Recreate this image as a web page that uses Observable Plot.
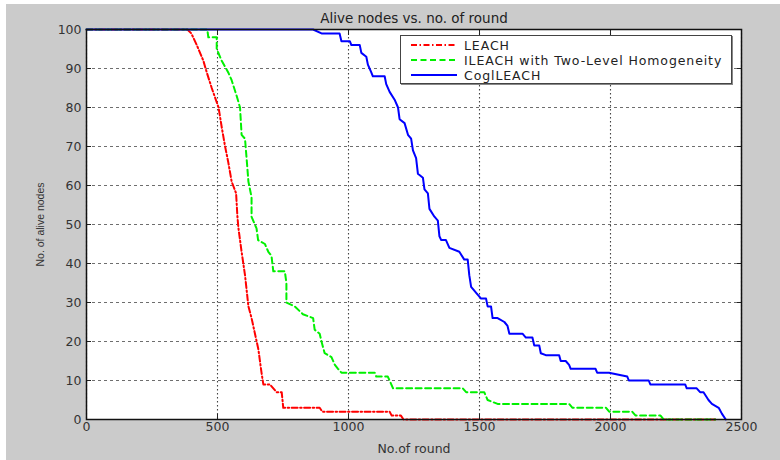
<!DOCTYPE html>
<html>
<head>
<meta charset="utf-8">
<script src="https://cdn.jsdelivr.net/npm/d3@7"></script>
<script src="https://cdn.jsdelivr.net/npm/@observablehq/plot@0.6"></script>
<style>
  html, body { margin: 0; padding: 0; background: #fff; }
  #wrap { position: relative; width: 780px; height: 460px; background: #fff; overflow: hidden; font-family: "DejaVu Sans", sans-serif; }
  #bg { position: absolute; left: 6px; top: 4px; right: 0; bottom: 0; background: #cbcbcb; }
  #chart { position: absolute; left: 0; top: 0; }
  #legend { position: absolute; left: 400px; top: 35px; width: 332px; height: 49px; background: #fff; border: 1px solid #444; box-sizing: border-box; box-shadow: 1px 1px 0 #888; }
  #legend .row { position: absolute; left: 9px; height: 14px; display: flex; align-items: center; font-size: 12.5px; color: #222; letter-spacing: 0.9px; }
  #legend svg { margin-right: 6px; }
</style>
</head>
<body>
<div id="wrap">
  <div id="bg"></div>
  <div id="chart"></div>
  <div id="legend"></div>
</div>
<script>
// ---- Data ----
const titleText = "Alive nodes vs. no. of round";
const xLabel = "No.of round";
const yLabel = "No. of alive nodes";
const xTicks = [0, 500, 1000, 1500, 2000, 2500];
const yTicks = [0, 10, 20, 30, 40, 50, 60, 70, 80, 90, 100];
const seriesNames = ["LEACH", "ILEACH with Two-Level Homogeneity", "CoglLEACH"];

const leachRound = [0,385,400,421,446,459,478,504,516,529,541,554,571,576,580,592,605,618,630,643,656,668,675,700,726,745,751,890,900,1157,1165,1200,1210,2400];
const leachAlive = [100,100,99,96,92,89,85,80,75,70,66,61,58,52,49,43,37,29,26,22,18,12,9,9,7,7,3,3,2,2,1,1,0,0];

const ileachRound = [0,461,465,497,497,516,541,554,573,586,592,605,611,618,630,630,649,655,681,694,706,713,738,757,763,763,795,826,865,871,890,897,909,935,948,960,973,1100,1106,1150,1170,1436,1449,1518,1531,1569,1842,1855,1983,1995,2083,2096,2191,2203,2400];
const ileachAlive = [100,100,98,98,95,92,89,87,83,80,73,72,67,61,57,52,49,46,45,43,42,38,38,38,35,30,29,27,26,23,22,20,17,16,14,13,12,12,11,11,8,8,7,7,5,4,4,3,3,2,2,1,1,0,0];

const cogRound = [0,865,897,966,973,1005,1011,1043,1049,1068,1074,1087,1093,1138,1144,1157,1176,1189,1195,1214,1227,1239,1246,1258,1265,1284,1290,1303,1309,1328,1341,1347,1354,1372,1385,1423,1442,1455,1461,1468,1493,1506,1525,1531,1544,1550,1569,1595,1607,1614,1664,1677,1702,1709,1728,1734,1753,1804,1810,1829,1842,1848,1943,1949,1994,2064,2070,2146,2152,2285,2291,2329,2342,2355,2374,2387,2413,2425,2440];
const cogAlive = [100,100,99,99,97,97,96,96,94,93,91,89,88,88,86,84,82,80,77,76,73,72,69,67,63,62,59,58,54,52,51,47,46,46,44,43,41,41,37,34,32,31,31,29,29,26,26,25,24,22,22,21,21,19,19,17,16.5,16.5,15,15,14,13,13,12,12,11,10,10,9,9,8,8,7,7,5,4,3,1.5,0];

const colors = ["#ff0000", "#00f000", "#0000ff"];
const dashes = ["6,2.5,1.5,2.5", "6,3.5", null];

// ---- Build table ----
function mk(name, xs, ys) { return xs.map((x, i) => ({series: name, round: x, alive: ys[i]})); }
const leach = mk(seriesNames[0], leachRound, leachAlive);
const ileach = mk(seriesNames[1], ileachRound, ileachAlive);
const cog = mk(seriesNames[2], cogRound, cogAlive);

const font = "DejaVu Sans, sans-serif";
const fmt = d => String(d);
const none = () => "";

const chart = Plot.plot({
  width: 780,
  height: 460,
  marginLeft: 86,
  marginRight: 39,
  marginTop: 29,
  marginBottom: 41,
  style: {background: "transparent", fontFamily: font, fontSize: "12.5px", color: "#333", overflow: "visible"},
  x: {domain: [0, 2500], ticks: xTicks},
  y: {domain: [0, 100], ticks: yTicks},
  marks: [
    Plot.frame({fill: "white", stroke: "none"}),
    Plot.gridX(xTicks, {stroke: "#222", strokeOpacity: 0.85, strokeWidth: 1.1, strokeDasharray: "1.5,2.5"}),
    Plot.gridY(yTicks, {stroke: "#555", strokeOpacity: 0.85, strokeWidth: 1.2, strokeDasharray: "3,3"}),
    Plot.line(leach, {x: "round", y: "alive", stroke: colors[0], strokeWidth: 2, strokeDasharray: dashes[0]}),
    Plot.line(ileach, {x: "round", y: "alive", stroke: colors[1], strokeWidth: 2, strokeDasharray: dashes[1]}),
    Plot.line(cog, {x: "round", y: "alive", stroke: colors[2], strokeWidth: 2}),
    // tick labels
    Plot.axisX(xTicks, {anchor: "bottom", tickSize: 0, tickPadding: 3, tickFormat: fmt, fill: "#333", fontSize: 12.5, label: null}),
    Plot.axisY(yTicks, {anchor: "left", tickSize: 0, tickPadding: 5, tickFormat: fmt, fill: "#333", fontSize: 12.5, label: null}),
    // axis titles
    Plot.axisX([], {anchor: "bottom", tickSize: 0, label: xLabel, labelAnchor: "center", labelOffset: 33, labelArrow: "none", fill: "#333", fontSize: 12.5}),
    Plot.axisY([], {anchor: "left", tickSize: 0, label: yLabel, labelAnchor: "center", labelOffset: 50, labelArrow: "none", fill: "#333", fontSize: 10.5, fontFamily: "Liberation Sans, Arial, sans-serif"}),
    // inward ticks on all four sides
    Plot.axisX(xTicks, {anchor: "bottom", tickSize: 5, dy: -5, tickFormat: none, label: null, stroke: "#222"}),
    Plot.axisX(xTicks, {anchor: "top", tickSize: 5, dy: 5, tickFormat: none, label: null, stroke: "#222"}),
    Plot.axisY(yTicks, {anchor: "left", tickSize: 5, dx: 5, tickFormat: none, label: null, stroke: "#222"}),
    Plot.axisY(yTicks, {anchor: "right", tickSize: 5, dx: -5, tickFormat: none, label: null, stroke: "#222"}),
    Plot.frame({stroke: "#111", strokeWidth: 1.5}),
    Plot.text([titleText], {frameAnchor: "top", dy: -16, fill: "#222", fontSize: 13.5})
  ]
});
document.getElementById("chart").appendChild(chart);

// ---- Legend ----
const legend = document.getElementById("legend");
seriesNames.forEach((name, i) => {
  const row = document.createElement("div");
  row.className = "row";
  row.style.top = (2 + i * 15) + "px";
  const dash = dashes[i] ? `stroke-dasharray="${dashes[i]}"` : "";
  row.innerHTML = `<svg width="48" height="6"><line x1="1" y1="3" x2="47" y2="3" stroke="${colors[i]}" stroke-width="2" ${dash}/></svg><span>${name}</span>`;
  legend.appendChild(row);
});
</script>
</body>
</html>
